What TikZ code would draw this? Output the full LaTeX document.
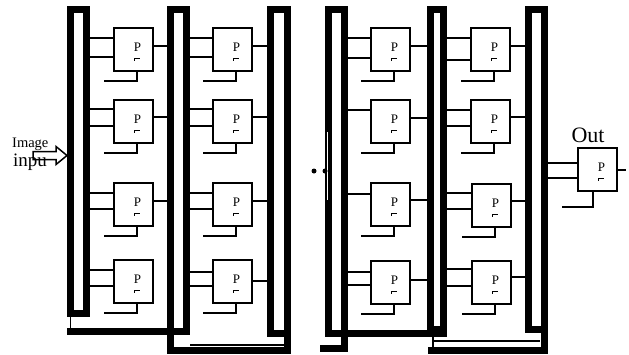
\documentclass[tikz,border=0pt]{standalone}
\usepackage{fontspec}
\setmainfont{Liberation Serif}
\begin{document}
\begin{tikzpicture}[x=1pt,y=-1pt,
  bus/.style={draw, line width=7pt, inner sep=0pt, fill=white},
  pbox/.style={draw, line width=2pt, fill=white, minimum width=39pt, minimum height=43pt, inner sep=0pt},
  ptext/.style={inner sep=0pt, font=\fontsize{13}{15}\selectfont},
  tickm/.style={line width=0.9pt},
  wire/.style={line width=2pt},
  wall/.style={line width=7pt},
  thinw/.style={line width=1.5pt}]
\useasboundingbox (0,0) rectangle (629,354);

% buses
\node[bus, minimum width=16pt, minimum height=304pt] (busA) at (78.5,161.5) {};
\node[bus, minimum width=16pt, minimum height=322pt] (busB) at (178.5,170.5) {};
\node[bus, minimum width=17pt, minimum height=324pt] (busC) at (279,171.5) {};
\node[bus, minimum width=16pt, minimum height=324pt] (busD) at (336.5,171.5) {};
\node[bus, minimum width=13pt, minimum height=320pt] (busE) at (437,169.5) {};
\node[bus, minimum width=16pt, minimum height=320pt] (busF) at (536.5,169.5) {};

% bottom links between buses
\draw[thinw] (70.5,317) -- (70.5,329);
\draw[wall] (67,331.5) -- (190,331.5);
\draw[wall] (170.5,331.5) -- (170.5,354);
\draw[wall] (167,350.5) -- (291,350.5);
\draw[thinw] (190,345) -- (284,345);
\draw[wall] (287.5,333.5) -- (287.5,354);
\draw[wall] (344.5,333.5) -- (344.5,352);
\draw[wall] (320,348.5) -- (348,348.5);
\draw[wall] (325,333.5) -- (447,333.5);
\draw[thinw] (433,333) -- (433,347);
\draw[thinw] (433,341) -- (540,341);
\draw[wall] (428,350) -- (548,350);
\draw[wall] (544.5,329.5) -- (544.5,353.5);

% broken wall and dots
\draw[white, line width=1.5pt] (327.5,132) -- (327.5,200);
\fill (314,171) circle (2.5);
\fill (325,171) circle (2.5);

% processor boxes
\foreach \n/\x/\y in {a1/113/27, a2/113/99, a3/113/182, a4/113/259,
                      b1/212/27, b2/212/99, b3/212/182, b4/212/259,
                      c1/370/27, c2/370/99, c3/370/182, c4/370/260,
                      d1/470/27, d2/470/99, d3/471/183, d4/471/260} {
  \node[pbox] (\n) at (\x+20.5,\y+22.5) {};
  \node[ptext] at ([xshift=4pt,yshift=2.5pt]\n.center) {P};
  \draw[tickm] ([xshift=0.5pt,yshift=-11pt]\n.center) -- ++(0,-2) -- ++(6,0);
  \draw[wire] ([xshift=3.5pt]\n.south) -- ++(0,9) -- ++(-33,0);
}

% inputs from buses
\foreach \b/\n/\yy in {busA/a1/38, busA/a1/57, busA/a2/109, busA/a2/126,
                       busA/a3/193, busA/a3/209, busA/a4/270, busA/a4/286,
                       busB/b1/38, busB/b1/57, busB/b2/109, busB/b2/126,
                       busB/b3/193, busB/b3/209, busB/b4/272, busB/b4/286,
                       busD/c1/38, busD/c1/58, busD/c2/110,
                       busD/c3/194, busD/c4/272, busD/c4/285,
                       busE/d1/38, busE/d1/60, busE/d2/110, busE/d2/126,
                       busE/d3/193, busE/d3/209, busE/d4/269, busE/d4/286} {
  \draw[wire] (\b.east |- 0,\yy) -- (\n.west |- 0,\yy);
}

% outputs to buses
\foreach \n/\b/\yy in {a1/busB/46, a2/busB/117, a3/busB/201,
                       b1/busC/46, b2/busC/117, b3/busC/201, b4/busC/281,
                       c1/busE/46, c2/busE/118, c3/busE/200, c4/busE/280,
                       d1/busF/46, d2/busF/117, d3/busF/201, d4/busF/277} {
  \draw[wire] (\n.east |- 0,\yy) -- (\b.west |- 0,\yy);
}

% output processor
\node[pbox] (out) at (597.5,169.5) {};
\node[ptext] at ([xshift=4pt,yshift=2.5pt]out.center) {P};
\draw[tickm] ([xshift=0.5pt,yshift=-11pt]out.center) -- ++(0,-2) -- ++(6,0);
\draw[wire] ([xshift=-4.5pt]out.south) -- ++(0,15) -- ++(-31,0);
\draw[wire] (busF.east |- 0,163) -- (out.west |- 0,163);
\draw[wire] (busF.east |- 0,178) -- (out.west |- 0,178);
\coordinate (outend) at (626,170);
\draw[wire] (out.east |- outend) -- (outend);
\node[anchor=base, inner sep=0pt, font=\fontsize{22}{24}\selectfont] (outlbl) at (588,142) {Out};

% image input
\draw[line width=1.5pt, fill=white] (33,151.5) -- (56,151.5) -- (56,146.5) -- (67,155.5) -- (56,164.5) -- (56,159.5) -- (33,159.5) -- cycle;
\node[anchor=base west, inner sep=0pt, font=\fontsize{14.5}{16}\selectfont] (imglbl) at (12,147.5) {Image};
\node[anchor=base west, inner sep=0pt, font=\fontsize{19}{21}\selectfont] (inplbl) at (13,166.5) {inpu};
\end{tikzpicture}
\end{document}
